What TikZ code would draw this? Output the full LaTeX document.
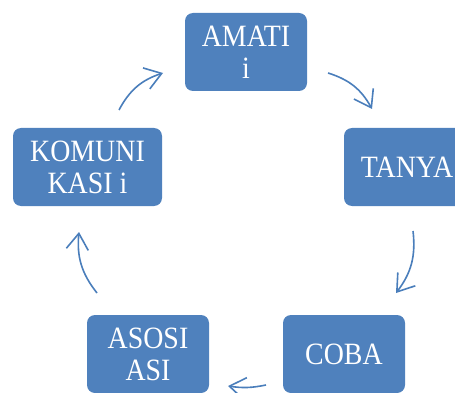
\documentclass[tikz,border=0pt]{standalone}
\usepackage{fontspec}
\setmainfont{Liberation Serif}[FakeStretch=0.9]
\usetikzlibrary{arrows.meta}
\definecolor{boxblue}{HTML}{4F81BD}
\definecolor{arrblue}{HTML}{4A7EBB}
\tikzset{
  stepbox/.style={rectangle, rounded corners=8pt, fill=boxblue, draw=none,
    text=white, align=center, inner sep=0pt,
    font=\fontsize{31}{32}\selectfont},
  cyc/.style={draw=arrblue, line width=1.6pt, bend left=22,
    -{Straight Barb[length=16pt,width=22pt,line width=1.6pt]}}
}
\begin{document}
\begin{tikzpicture}[x=1pt,y=-1pt]
\useasboundingbox (0,0) rectangle (455,393);
\node[stepbox, minimum width=122pt, minimum height=78pt] (amati) at (246,52) {AMATI\\i};
\node[stepbox, minimum width=126pt, minimum height=78pt] (tanya) at (407,167) {TANYA};
\node[stepbox, minimum width=122pt, minimum height=78pt] (coba) at (344,354) {COBA};
\node[stepbox, minimum width=122pt, minimum height=78pt] (asosiasi) at (148,354) {ASOSI\\ASI};
\node[stepbox, minimum width=149pt, minimum height=78pt] (komunikasi) at (87.5,167) {KOMUNI\\KASI i};
\coordinate (a1s) at (119,110);
\coordinate (a1e) at (163,73);
\coordinate (a2s) at (328,73);
\coordinate (a2e) at (372,109);
\coordinate (a3s) at (413,231);
\coordinate (a3e) at (396,293);
\coordinate (a4s) at (266,385);
\coordinate (a4e) at (228,386);
\coordinate (a5s) at (97,293);
\coordinate (a5e) at (79,232);
\draw[cyc] (a1s) to (a1e);
\draw[cyc] (a2s) to (a2e);
\draw[cyc] (a3s) to (a3e);
\draw[cyc, bend left=10] (a4s) to (a4e);
\draw[cyc] (a5s) to (a5e);
\end{tikzpicture}
\end{document}
